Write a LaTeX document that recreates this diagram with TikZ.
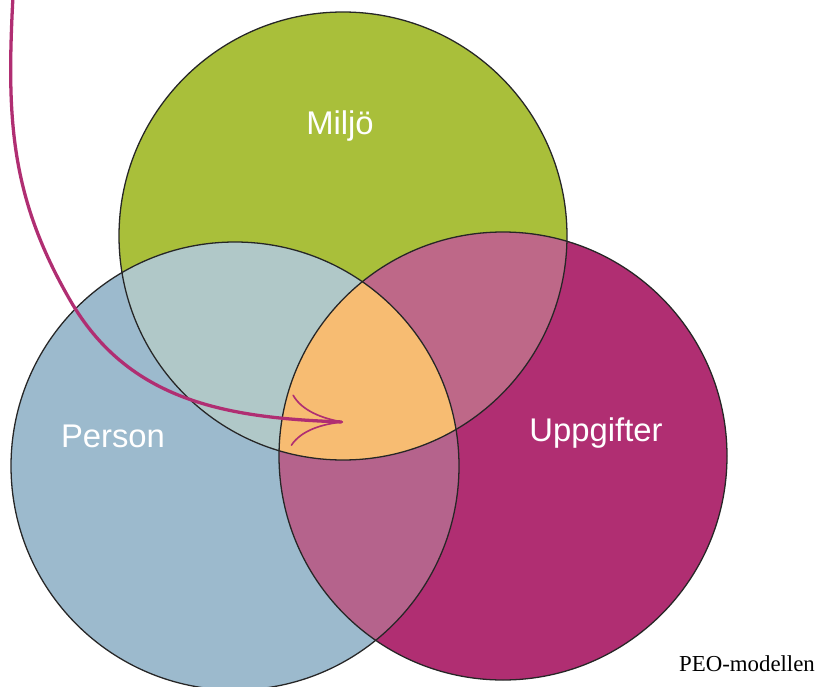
\documentclass[tikz,border=0pt]{standalone}
\usepackage{fontspec}
\setmainfont{Liberation Serif}
\newfontfamily\rubrik{Liberation Sans}
\usetikzlibrary{arrows.meta}

\definecolor{miljogron}{HTML}{A9BF3A}
\definecolor{personbla}{HTML}{9CBACD}
\definecolor{uppglila}{HTML}{B02E72}
\definecolor{grbla}{HTML}{B0C8C8}
\definecolor{grlila}{HTML}{BE6888}
\definecolor{blalila}{HTML}{B5638C}
\definecolor{mitten}{HTML}{F7BC72}

\begin{document}
\begin{tikzpicture}[x=0.03cm,y=0.03cm]
		\tikzstyle{kant}=[draw=black!85,line width=1.1pt]
		\tikzstyle{etikett}=[text=white,font=\rubrik\fontsize{28}{30}\selectfont,inner sep=0pt]
		\tikzstyle{pil}=[draw=uppglila,line width=2.8pt,line cap=round,
		-{Computer Modern Rightarrow[length=44pt,width=44pt,line width=1.4pt]}]
		
		\useasboundingbox (0,0) rectangle (819,686);
		
		%% Mittpunkter
		\coordinate (miljo)  at (343,450);
		\coordinate (person) at (235,220);
		\coordinate (uppg)   at (503,230);
		\def\r{224}
		
		%% Cirklar
		\fill[miljogron] (miljo) circle (\r);
		\fill[personbla] (person) circle (\r);
		\fill[uppglila] (uppg) circle (\r);
		
		%% Snitt
		\begin{scope}
			\clip (miljo) circle (\r);
			\fill[grbla] (person) circle (\r);
			\fill[grlila] (uppg) circle (\r);
		\end{scope}
		\begin{scope}
			\clip (person) circle (\r);
			\fill[blalila] (uppg) circle (\r);
			\clip (uppg) circle (\r);
			\fill[mitten] (miljo) circle (\r);
		\end{scope}
		
		%% Kanter
		\draw[kant] (miljo) circle (\r);
		\draw[kant] (person) circle (\r);
		\draw[kant] (uppg) circle (\r);
		
		%% Text
		\node[etikett] (tmiljo)  at (340,560) {Miljö};
		\node[etikett] (tperson) at (113,250) {Person};
		\node[etikett] (tuppg)   at (596,253) {Uppgifter};
		\node[font=\fontsize{19.5}{22}\selectfont,inner sep=0pt] (modell) at (747,22) {PEO-modellen};
		
		%% Pil
		\coordinate (start) at (13,690);
		\coordinate (mitt)  at (70,386);
		\coordinate (spets) at (343,264);
		\draw[pil] (start) to[out=-93,in=120] (mitt) to[out=-60,in=178] (spets);
		
	\end{tikzpicture}
\end{document}
